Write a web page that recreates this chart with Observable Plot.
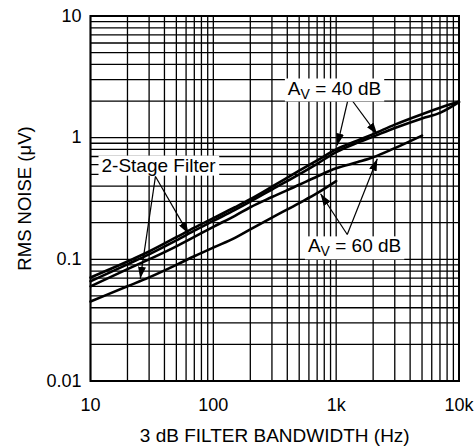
<!DOCTYPE html>
<html>
<head>
<meta charset="utf-8">
<script src="https://cdn.jsdelivr.net/npm/d3@7"></script>
<script src="https://cdn.jsdelivr.net/npm/@observablehq/plot@0.6"></script>
<style>
  html, body { margin: 0; padding: 0; background: #fff; }
  #chart svg { display: block; font-family: "Liberation Sans", Arial, Helvetica, sans-serif; }
</style>
</head>
<body>
<div id="chart"></div>
<script>
// ---- Data ----
const bandwidthHz = [10, 20, 30, 50, 70, 100, 150, 200, 300, 500, 700, 1000, 1500, 2000, 3000, 5000, 7000, 10000];
// A_V = 40 dB, single filter (top curve)
const noiseAv40Single   = [0.071, 0.096, 0.116, 0.152, 0.182, 0.218, 0.268, 0.312, 0.395, 0.535, 0.65, 0.80, 0.95, 1.07, 1.28, 1.56, 1.76, 1.98];
// A_V = 40 dB, 2-stage filter
const noiseAv40TwoStage = [0.066, 0.091, 0.110, 0.143, 0.172, 0.207, 0.255, 0.298, 0.375, 0.50, 0.61, 0.76, 0.91, 1.02, 1.20, 1.44, 1.60, 1.96];
// A_V = 60 dB, single filter (ends at 5 kHz)
const noiseAv60Single   = [0.060, 0.083, 0.100, 0.128, 0.153, 0.185, 0.228, 0.268, 0.325, 0.41, 0.48, 0.56, 0.63, 0.69, 0.82, 1.04];
// A_V = 60 dB, 2-stage filter (ends at 1 kHz)
const noiseAv60TwoStage = [0.045, 0.060, 0.071, 0.090, 0.106, 0.125, 0.150, 0.176, 0.220, 0.29, 0.35, 0.44];

const seriesNames = ["AV40 single", "AV40 2-stage", "AV60 single", "AV60 2-stage"];
const seriesValues = [noiseAv40Single, noiseAv40TwoStage, noiseAv60Single, noiseAv60TwoStage];

// axis ticks
const xTickValues = [10, 100, 1000, 10000];
const xTickLabels = ["10", "100", "1k", "10k"];
const yTickValues = [0.01, 0.1, 1, 10];
const yTickLabels = ["0.01", "0.1", "1", "10"];
const xTitle = "3 dB FILTER BANDWIDTH (Hz)";
const yTitle = "RMS NOISE (\u03BCV)";

// log grid (1..9 per decade)
const gridMultipliers = [1, 2, 3, 4, 5, 6, 7, 8, 9];
const xDecades = [10, 100, 1000];
const yDecades = [0.01, 0.1, 1];

// annotations (data coordinates)
const annotationLabels = ["A_V = 40 dB", "2-Stage Filter", "A_V = 60 dB"];
const annotationX = [970, 35.8, 1413];
const annotationY = [2.54, 0.59, 0.128];

const arrowFromX = [1268, 1268, 33.8, 33.8, 1231, 1231];
const arrowFromY = [2.2, 2.2, 0.48, 0.48, 0.160, 0.160];
const arrowToX   = [1021, 2162, 25.4, 62.8, 746, 2162];
const arrowToY   = [0.863, 1.06, 0.0692, 0.162, 0.346, 0.67];

// ---- Build tables ----
const curveTable = [];
seriesValues.forEach((vals, s) => {
  vals.forEach((v, i) => curveTable.push({series: seriesNames[s], f: bandwidthHz[i], v}));
});
const xGrid = [];
xDecades.forEach(d => gridMultipliers.forEach(m => xGrid.push(d * m)));
xGrid.push(10000);
const yGrid = [];
yDecades.forEach(d => gridMultipliers.forEach(m => yGrid.push(+(d * m).toPrecision(3))));
yGrid.push(10);
const labelTable = annotationLabels.map((t, i) => ({t, x: annotationX[i], y: annotationY[i]}));
const arrowTable = arrowFromX.map((_, i) => ({x1: arrowFromX[i], y1: arrowFromY[i], x2: arrowToX[i], y2: arrowToY[i]}));

const chart = Plot.plot({
  width: 475,
  height: 446,
  marginLeft: 90,
  marginRight: 16.5,
  marginTop: 15.5,
  marginBottom: 65.5,
  style: {fontSize: "18px", color: "#000", background: "#fff", fontFamily: "'Liberation Sans', Arial, sans-serif"},
  x: {type: "log", domain: [10, 10000], ticks: xTickValues, tickFormat: d => xTickLabels[xTickValues.indexOf(d)], tickSize: 0, tickPadding: 17, label: null},
  y: {type: "log", domain: [0.01, 10], ticks: yTickValues, tickFormat: d => yTickLabels[yTickValues.indexOf(d)], tickSize: 0, tickPadding: 9, label: null},
  marks: [
    Plot.ruleX(xGrid, {stroke: "#000", strokeWidth: 1.3}),
    Plot.ruleY(yGrid, {stroke: "#000", strokeWidth: 1.3}),
    Plot.frame({stroke: "#000", strokeWidth: 2}),
    Plot.line(curveTable, {x: "f", y: "v", z: "series", stroke: "#000", strokeWidth: 2.6, curve: "monotone-x"}),
    Plot.link(arrowTable, {x1: "x1", y1: "y1", x2: "x2", y2: "y2", stroke: "#000", strokeWidth: 1.2}),
    Plot.text(labelTable, {x: "x", y: "y", text: "t", fontSize: 19, fill: "#000"}),
    Plot.text([xTitle], {frameAnchor: "bottom", dy: 55, lineAnchor: "middle", textAnchor: "middle", fontSize: 19, fill: "#000"}),
    Plot.text([yTitle], {frameAnchor: "left", dx: -65, rotate: -90, textAnchor: "middle", lineAnchor: "middle", fontSize: 18.5, fill: "#000"})
  ]
});

document.getElementById("chart").appendChild(chart);

// ---- Post-process: subscripts, white label boxes, filled arrowheads ----
const svgNS = "http://www.w3.org/2000/svg";
const svg = chart;
const defs = document.createElementNS(svgNS, "defs");
const marker = document.createElementNS(svgNS, "marker");
marker.setAttribute("id", "filledHead");
marker.setAttribute("viewBox", "0 0 12 8");
marker.setAttribute("refX", "12");
marker.setAttribute("refY", "4");
marker.setAttribute("markerWidth", "12");
marker.setAttribute("markerHeight", "8");
marker.setAttribute("markerUnits", "userSpaceOnUse");
marker.setAttribute("orient", "auto");
const mp = document.createElementNS(svgNS, "path");
mp.setAttribute("d", "M0,0L12,4L0,8Z");
mp.setAttribute("fill", "#000");
marker.appendChild(mp);
defs.appendChild(marker);
svg.insertBefore(defs, svg.firstChild);

svg.querySelectorAll('g[aria-label="link"] path, g[aria-label="link"] line').forEach(p => {
  p.setAttribute("marker-end", "url(#filledHead)");
});

svg.querySelectorAll("text").forEach(t => {
  const s = t.textContent;
  if (!annotationLabels.includes(s)) return;
  if (s.includes("_")) {
    const [pre, rest] = s.split("_");
    const sub = rest.charAt(0), post = rest.slice(1);
    while (t.firstChild) t.removeChild(t.firstChild);
    const a = document.createElementNS(svgNS, "tspan"); a.textContent = pre;
    const b = document.createElementNS(svgNS, "tspan"); b.textContent = sub;
    b.setAttribute("font-size", "14"); b.setAttribute("dy", "4");
    const c = document.createElementNS(svgNS, "tspan"); c.textContent = post; c.setAttribute("dy", "-4");
    t.appendChild(a); t.appendChild(b); t.appendChild(c);
  }
  const bb = t.getBBox();
  const r = document.createElementNS(svgNS, "rect");
  r.setAttribute("x", bb.x - 3);
  r.setAttribute("y", bb.y + 1);
  r.setAttribute("width", bb.width + 6);
  r.setAttribute("height", bb.height - 1);
  r.setAttribute("fill", "#fff");
  const tf = t.getAttribute("transform");
  if (tf) r.setAttribute("transform", tf);
  t.parentNode.insertBefore(r, t);
});
</script>
</body>
</html>
